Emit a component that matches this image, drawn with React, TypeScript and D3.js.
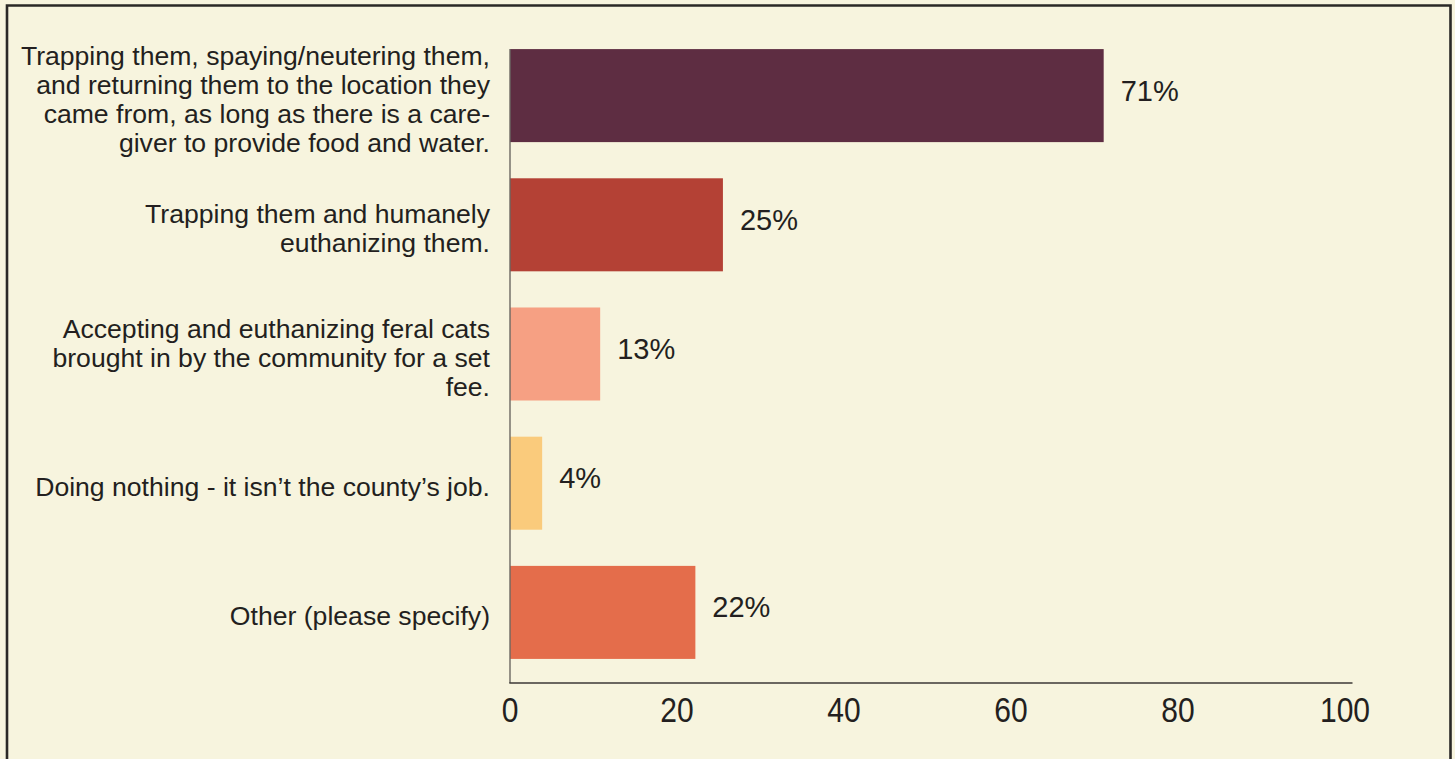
import * as d3 from 'd3';

const WIDTH = 1455;
const HEIGHT = 759;

// answer options, one label line per entry
const categories: string[][] = [
  [
    'Trapping them, spaying/neutering them,',
    'and returning them to the location they',
    'came from, as long as there is a care-',
    'giver to provide food and water.',
  ],
  ['Trapping them and humanely', 'euthanizing them.'],
  ['Accepting and euthanizing feral cats', 'brought in by the community for a set', 'fee.'],
  ['Doing nothing - it isn\u2019t the county\u2019s job.'],
  ['Other (please specify)'],
];

// bar lengths as drawn, and the printed percentages
const values = [71.1, 25.5, 10.8, 3.85, 22.2];
const valueLabels = ['71%', '25%', '13%', '4%', '22%'];
const barColors = ['#5e2d42', '#b44135', '#f6a083', '#facb7c', '#e46d4b'];
const xTicks = [0, 20, 40, 60, 80, 100];

const BG = '#f7f4de';
const INK = '#231f20';
const FONT = '"Liberation Sans", Arial, Helvetica, sans-serif';

export default function App() {
  const x = d3.scaleLinear().domain([0, 100]).range([510, 1345]);
  const y = d3
    .scaleBand<number>()
    .domain(d3.range(categories.length))
    .range([31, 677])
    .paddingInner(0.28)
    .paddingOuter(0.14);

  const axisY = 683;
  const lineH = 29;

  return (
    <div style={{ position: 'fixed', left: 0, top: 0 }}>
      <svg width={WIDTH} height={HEIGHT} style={{ display: 'block', fontFamily: FONT }}>
        <rect x={0} y={0} width={WIDTH} height={HEIGHT} fill={BG} />
        {/* frame, open at the bottom */}
        <path
          d={`M7,${HEIGHT + 5} V5.5 H1450.5 V${HEIGHT + 5}`}
          fill="none"
          stroke="#2a2826"
          strokeWidth={2.6}
        />

        {/* bars */}
        {values.map((v, i) => (
          <rect
            key={i}
            x={x(0)}
            y={y(i)}
            width={x(v) - x(0)}
            height={y.bandwidth()}
            fill={barColors[i]}
          />
        ))}

        {/* value labels */}
        {values.map((v, i) => (
          <text
            key={i}
            x={x(v) + 17}
            y={y(i)! + y.bandwidth() / 2 + 5}
            fontSize={29}
            fill={INK}
          >
            {valueLabels[i]}
          </text>
        ))}

        {/* category labels */}
        {categories.map((lines, i) => {
          const cy = y(i)! + y.bandwidth() / 2;
          return (
            <text key={i} textAnchor="end" fontSize={26.6} fill={INK}>
              {lines.map((l, j) => (
                <tspan key={j} x={490} y={cy + (j - (lines.length - 1) / 2) * lineH + 13}>
                  {l}
                </tspan>
              ))}
            </text>
          );
        })}

        {/* axes */}
        <line x1={x(0)} x2={x(0)} y1={y(0)} y2={axisY} stroke="#6b6762" strokeWidth={1.4} />
        <line x1={x(0) - 0.7} x2={x(100) + 7.5} y1={axisY} y2={axisY} stroke="#3c3936" strokeWidth={1.4} />
        {xTicks.map((t) => (
          <text
            key={t}
            transform={`translate(${x(t)},721.5) scale(0.87,1)`}
            textAnchor="middle"
            fontSize={34.5}
            fill={INK}
          >
            {t}
          </text>
        ))}
      </svg>
    </div>
  );
}
